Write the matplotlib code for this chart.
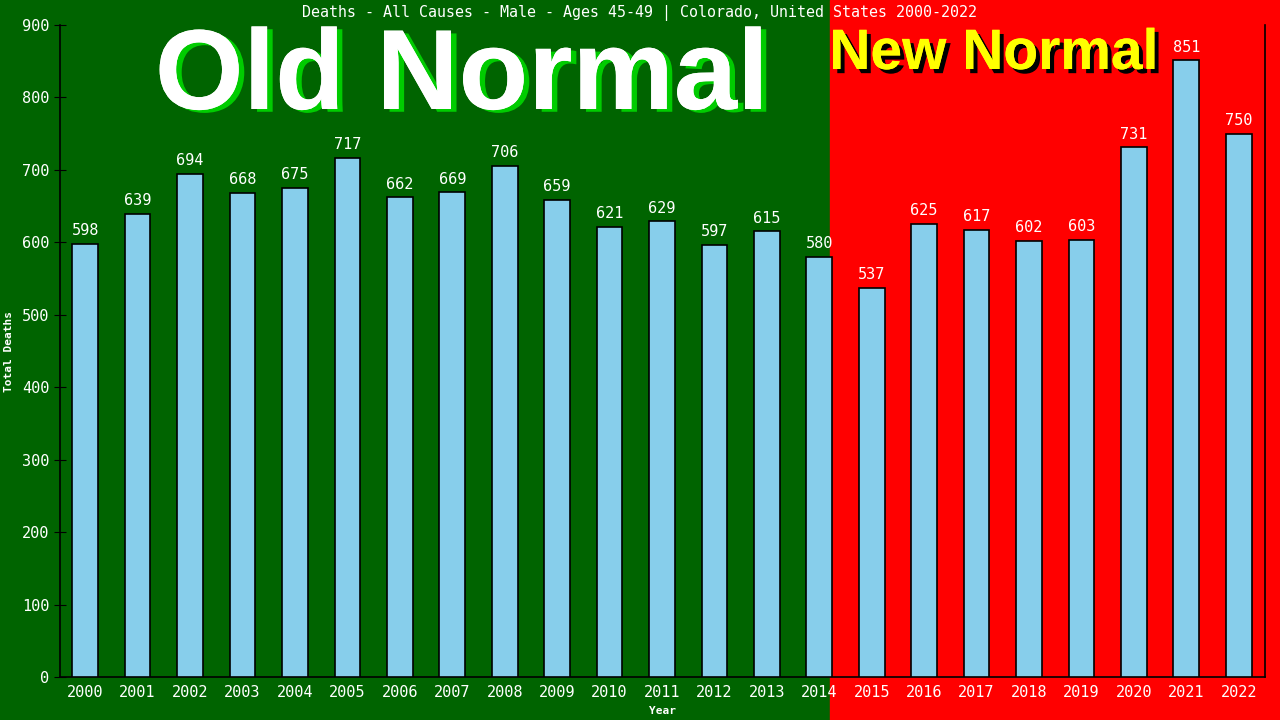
import matplotlib.pyplot as plt
import matplotlib.patheffects as pe

years = [str(y) for y in range(2000, 2023)]
deaths = [598, 639, 694, 668, 675, 717, 662, 669, 706, 659, 621, 629,
          597, 615, 580, 537, 625, 617, 602, 603, 731, 851, 750]

green = '#006400'
red = '#ff0000'
mono = 'DejaVu Sans Mono'

fig = plt.figure(figsize=(12.8, 7.2), dpi=100)
fig.patch.set_facecolor(green)

# background: green left part, red right part ("new normal")
bg = fig.add_axes([0, 0, 1, 1], zorder=-1)
bg.axis('off')
bg.set_xlim(0, 1)
bg.set_ylim(0, 1)
bg.axvspan(830 / 1280, 1, color=red)

ax = fig.add_axes([60 / 1280, 43 / 720, 1205 / 1280, 652 / 720])
ax.set_facecolor('none')

x = list(range(len(years)))
ax.bar(x, deaths, width=0.49, color='#87ceeb', edgecolor='black', linewidth=1.2, zorder=3)
for xi, v in zip(x, deaths):
    ax.text(xi, v + 8, str(v), ha='center', va='bottom', color='white',
            fontsize=11, family=mono, zorder=4)

ax.set_xlim(-0.48, 22.5)
ax.set_ylim(0, 900)
ax.set_xticks(x)
ax.set_xticklabels(years)
ax.set_yticks(range(0, 901, 100))
ax.tick_params(axis='x', length=0, colors='white', labelsize=11, pad=6)
ax.tick_params(axis='y', direction='inout', length=8, colors='black',
               labelcolor='white', labelsize=11)
for lbl in ax.get_xticklabels() + ax.get_yticklabels():
    lbl.set_family(mono)
ax.spines['top'].set_visible(False)
for s in ['left', 'right', 'bottom']:
    ax.spines[s].set_color('black')
    ax.spines[s].set_linewidth(1.2)

ax.set_xlabel('Year', color='white', fontsize=8, family=mono, fontweight='bold', labelpad=4)
ax.set_ylabel('Total Deaths', color='white', fontsize=8, family=mono, fontweight='bold', labelpad=6)

fig.text(0.5, 0.982, 'Deaths - All Causes - Male - Ages 45-49 | Colorado, United States 2000-2022',
         ha='center', va='center', color='white', fontsize=10.8, family=mono)

fig.text(462 / 1280, 1 - 80 / 720, 'Old Normal', ha='center', va='center',
         color='white', fontsize=82, family='Liberation Sans', fontweight='bold',
         path_effects=[pe.withSimplePatchShadow(offset=(4, -2), shadow_rgbFace='#00cc00', alpha=1),
                       pe.Normal()])
fig.text(994 / 1280, 1 - 54 / 720, 'New Normal', ha='center', va='center',
         color='yellow', fontsize=41, family='Liberation Sans', fontweight='bold',
         path_effects=[pe.withSimplePatchShadow(offset=(3, -3), shadow_rgbFace='black', alpha=1),
                       pe.Normal()])

fig.savefig('out.png', dpi=100, facecolor=fig.get_facecolor())
